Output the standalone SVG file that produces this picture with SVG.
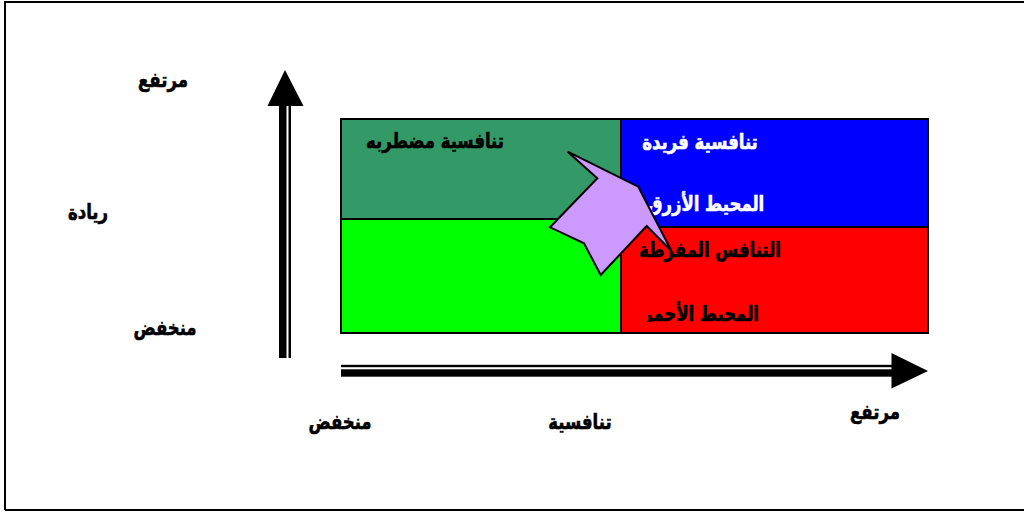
<svg xmlns="http://www.w3.org/2000/svg" width="1024" height="513" viewBox="0 0 1024 513">
<defs>
<style>
.t{font-family:"DejaVu Sans","Noto Sans",sans-serif;font-weight:bold;font-size:16.5px;text-anchor:middle;stroke-width:0.5px}
.w{fill:#ffffff;stroke:#ffffff}
.k{fill:#000000;stroke:#000000}
.cell{stroke:#000000;stroke-width:2}
</style>
<clipPath id="redclip"><rect x="621" y="228" width="307" height="94"/></clipPath>
</defs>
<rect x="0" y="0" width="1024" height="513" fill="#ffffff"/>
<path d="M5,510 L5,2 L1030,2 M5,510 L1030,510" fill="none" stroke="#000000" stroke-width="2"/>
<g id="axes">
<rect x="279" y="104" width="7.5" height="254" fill="#000"/>
<rect x="288.5" y="104" width="2.5" height="254" fill="#000"/>
<polygon points="285,70 267.5,106 303.5,106" fill="#000"/>
<rect x="341" y="364.8" width="552" height="2.4" fill="#000"/>
<rect x="341" y="369.3" width="552" height="7.4" fill="#000"/>
<polygon points="891.5,353 891.5,388.5 928,371" fill="#000"/>
</g>
<g id="cell-tl"><rect class="cell" x="341" y="119" width="280" height="100" fill="#339966"/><text class="t k" transform="translate(435,148) scale(1,1.25)">تنافسية مضطربه</text></g>
<g id="cell-bl"><rect class="cell" x="341" y="219" width="280" height="114" fill="#00ff00"/></g>
<g id="cell-tr"><rect class="cell" x="621" y="119" width="307" height="108" fill="#0000ff"/><text class="t w" transform="translate(700,149) scale(1,1.25)">تنافسية فريدة</text><text class="t w" transform="translate(706,211) scale(1,1.25)">المحيط الأزرق</text></g>
<g id="cell-br"><rect class="cell" x="621" y="227" width="307" height="106" fill="#ff0000"/></g>
<g id="shift-arrow"><polygon points="567.7,151.7 638.3,186.7 671.5,251 646.7,226 600.7,275 584,243.3 550,227.3 597.3,178.3" fill="#cc99ff" stroke="#000" stroke-width="2" stroke-linejoin="miter"/></g>
<g id="red-labels"><text class="t k" transform="translate(710,257) scale(1,1.25)">التنافس المفرطة</text><g clip-path="url(#redclip)"><text class="t k" transform="translate(701,321) scale(1,1.25)">المحبط الأحمر</text></g></g>
<g id="labels">
<text class="t k" transform="translate(163,87) scale(1,1.25)">مرتفع</text>
<text class="t k" transform="translate(88,219) scale(1,1.25)">ريادة</text>
<text class="t k" transform="translate(165,335) scale(1,1.25)">منخفض</text>
<text class="t k" transform="translate(340,429) scale(1,1.25)">منخفض</text>
<text class="t k" transform="translate(580,429) scale(1,1.25)">تنافسية</text>
<text class="t k" transform="translate(875,419) scale(1,1.25)">مرتفع</text>
</g>
</svg>
